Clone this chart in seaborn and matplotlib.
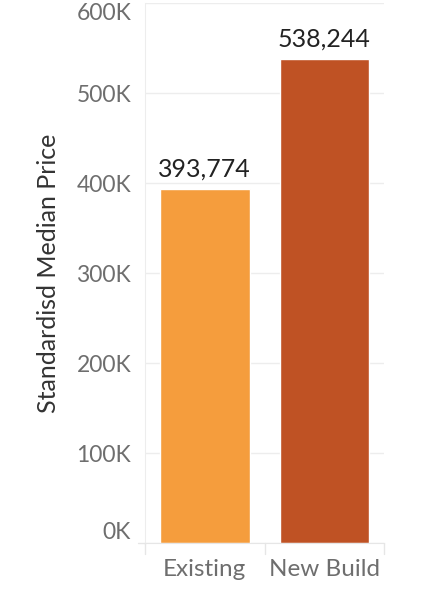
import matplotlib
matplotlib.use("Agg")
import matplotlib.pyplot as plt
import pandas as pd
import seaborn as sns

categories = ["Existing", "New Build"]
prices = [393774, 538244]
bar_colors = ["#F59D3D", "#BF5224"]
y_ticks = [0, 100000, 200000, 300000, 400000, 500000, 600000]
y_tick_labels = ["0K", "100K", "200K", "300K", "400K", "500K", "600K"]

df = pd.DataFrame({"type": categories, "price": prices})

sns.set_style("white")
plt.rcParams["font.family"] = ["Lato", "DejaVu Sans"]

fig = plt.figure(figsize=(4.33, 5.95), dpi=100)
ax = fig.add_axes([0.335, 0.087, 0.552, 0.908])

sns.barplot(data=df, x="type", y="price", hue="type", palette=bar_colors,
            width=0.75, legend=False, ax=ax, saturation=1)

ax.set_ylim(0, 600000)
ax.set_xlim(-0.5, 1.5)
ax.set_yticks(y_ticks)
ax.set_yticklabels(y_tick_labels)
ax.yaxis.grid(True, color="#EDEDED", linewidth=1)
ax.set_axisbelow(True)
for s in ["top", "right"]:
    ax.spines[s].set_visible(False)
ax.spines["left"].set_color("#EDEDED")
ax.spines["bottom"].set_color("#E6E6E6")
ax.tick_params(axis="y", length=0, pad=10, labelsize=16.5, labelcolor="#6E6E6E")
ax.tick_params(axis="x", length=0, pad=11, labelsize=17.5, labelcolor="#6E6E6E")
tl = ax.get_yticklabels()
tl[0].set_va("bottom")
tl[-1].set_va("top")

for i, v in enumerate(prices):
    ax.text(i, v + 9000, f"{v:,}", ha="center", va="bottom",
            fontsize=18, color="#222222")

ax.set_xlabel("")
ax.set_ylabel("Standardisd Median Price", fontsize=18, color="#333333", labelpad=12)

# header divider ticks below the axis
for xv in [-0.5, 0.5, 1.5]:
    ax.plot([xv, xv], [0, -0.02], transform=ax.get_xaxis_transform(),
            color="#E6E6E6", linewidth=1, clip_on=False)
ax.plot([-0.03, 0], [0, 0], transform=ax.transAxes, color="#E6E6E6",
        linewidth=1, clip_on=False)

fig.savefig("out.png", dpi=100)
